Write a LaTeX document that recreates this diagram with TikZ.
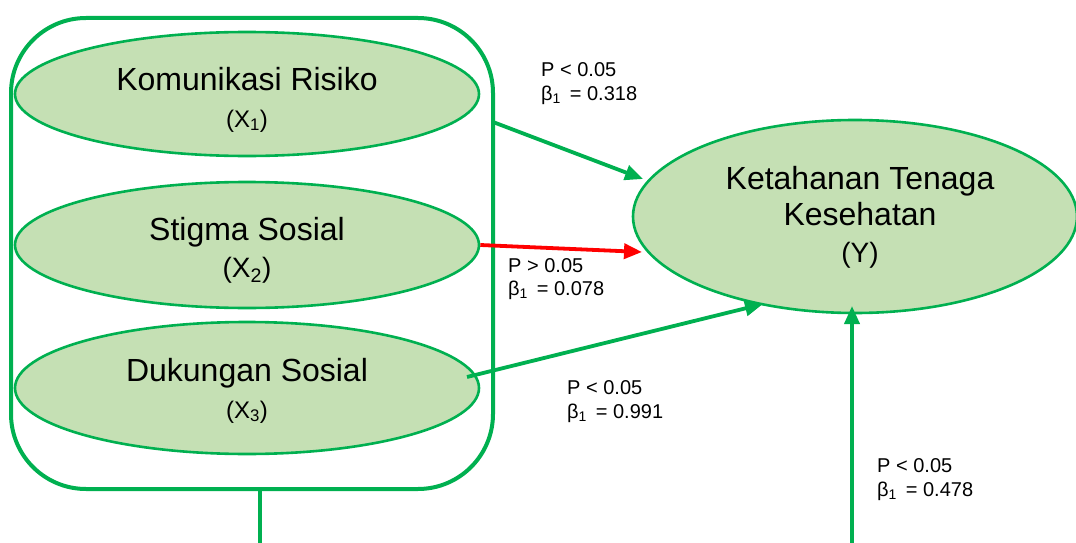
\documentclass[tikz,border=0pt]{standalone}
\usepackage{fontspec}
\setmainfont{Liberation Sans}
\usetikzlibrary{shapes.geometric,arrows.meta}
\definecolor{grn}{HTML}{00B050}
\definecolor{fillg}{HTML}{C5E0B4}
\definecolor{rd}{HTML}{FF0000}
\begin{document}
\begin{tikzpicture}[x=1pt,y=-1pt,
  var/.style={ellipse, draw=grn, fill=fillg, line width=2.6pt, inner sep=0pt},
  big/.style={anchor=base, inner sep=0pt, font=\fontsize{32}{38}\selectfont},
  sml/.style={anchor=base, inner sep=0pt, font=\fontsize{24}{28}\selectfont},
  mid/.style={anchor=base, inner sep=0pt, font=\fontsize{28}{32}\selectfont},
  lbl/.style={anchor=base west, inner sep=0pt, font=\fontsize{20}{24}\selectfont},
  conn/.style={draw=grn, line width=3.8pt, -{Triangle[length=18pt,width=15pt]}},
  nconn/.style={draw=rd, line width=3.8pt, -{Triangle[length=18pt,width=15pt]}},
  plain/.style={draw=grn, line width=4pt}]
\useasboundingbox (0,0) rectangle (1076,543);
% grouping box
\node[draw=grn, line width=4pt, rounded corners=75pt, minimum width=482pt, minimum height=471pt, inner sep=0pt] (box) at (252,253.5) {};
% independent variables
\node[var, minimum width=464pt, minimum height=124pt] (x1) at (247,94) {};
\node[var, minimum width=464pt, minimum height=126pt] (x2) at (247,245) {};
\node[var, minimum width=464pt, minimum height=132pt] (x3) at (247,388) {};
\node[big] (t1) at (247,90) {Komunikasi Risiko};
\node[sml] (t1b) at (247,127) {(X\textsubscript{1})};
\node[big] (t2) at (247,240) {Stigma Sosial};
\node[mid] (t2b) at (247,277) {(X\textsubscript{2})};
\node[big] (t3) at (247,381) {Dukungan Sosial};
\node[sml] (t3b) at (247,418) {(X\textsubscript{3})};
% dependent variable
\node[var, minimum width=444pt, minimum height=193pt] (y) at (855,216.5) {};
\node[big] (ty1) at (860,189) {Ketahanan Tenaga};
\node[big] (ty2) at (860,225) {Kesehatan};
\node[mid] (ty3) at (860,262) {(Y)};
% connector end points
\coordinate (a1s) at (493,122);
\coordinate (a1e) at (643,179);
\coordinate (a2e) at (642,252);
\coordinate (a3s) at (467,377);
\coordinate (a3e) at (763,304);
\coordinate (a4s) at (852,545);
\coordinate (a4e) at (852,306);
\coordinate (bs) at (260,489);
\coordinate (be) at (260,545);
\draw[conn] (a1s) -- (a1e);
\draw[nconn] (x2.east) -- (a2e);
\draw[conn] (a3s) -- (a3e);
\draw[conn] (a4s) -- (a4e);
\draw[plain] (bs) -- (be);
% labels
\node[lbl] (l1a) at (541,77) {P < 0.05};
\node[lbl] (l1b) at (541,100) {β\textsubscript{1}\,\ = 0.318};
\node[lbl] (l2a) at (508,272) {P > 0.05};
\node[lbl] (l2b) at (508,295) {β\textsubscript{1}\,\ = 0.078};
\node[lbl] (l3a) at (567,394) {P < 0.05};
\node[lbl] (l3b) at (567,418) {β\textsubscript{1}\,\ = 0.991};
\node[lbl] (l4a) at (877,472) {P < 0.05};
\node[lbl] (l4b) at (877,496) {β\textsubscript{1}\,\ = 0.478};
\end{tikzpicture}
\end{document}
